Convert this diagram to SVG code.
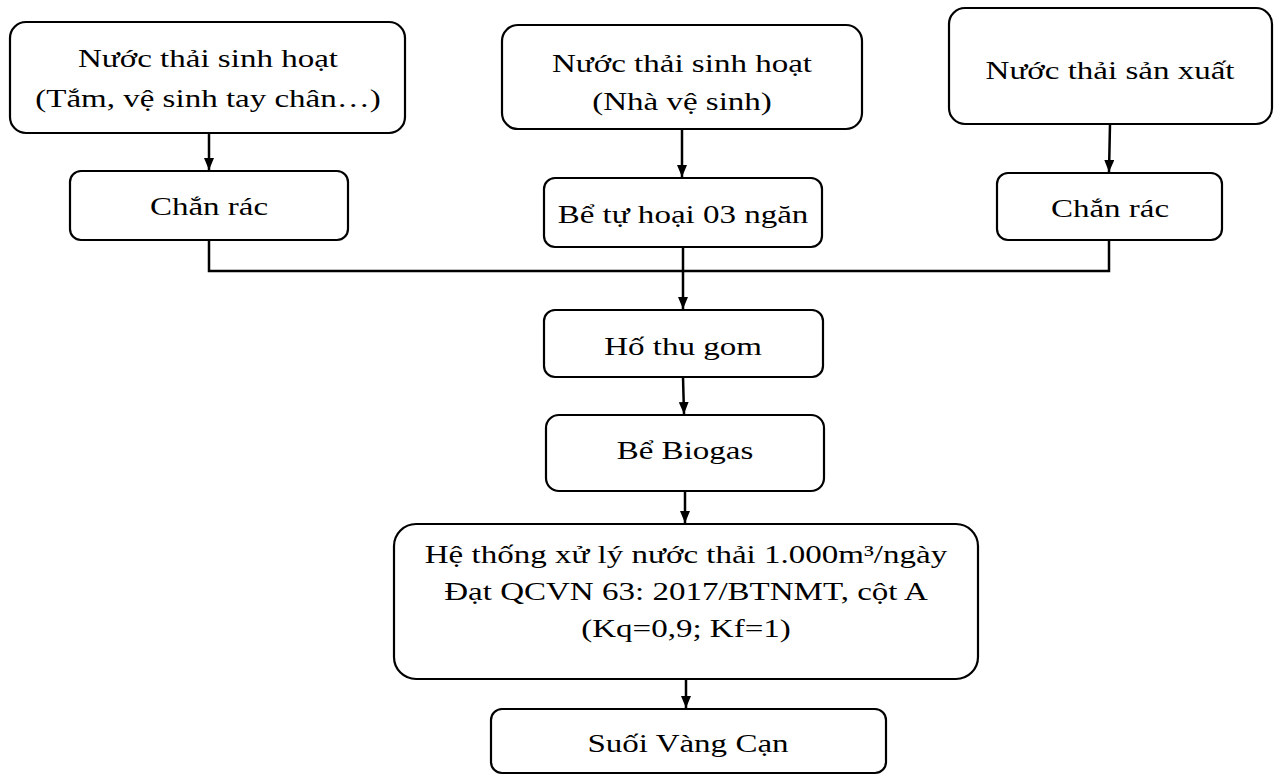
<svg xmlns="http://www.w3.org/2000/svg" width="1274" height="776" viewBox="0 0 1274 776">
<style>
.box{fill:#fff;stroke:#000;stroke-width:2.2}
.t{font-family:"Liberation Serif","Times New Roman",serif;font-size:25.6px;fill:#000;text-anchor:middle}
.c{fill:none;stroke:#000;stroke-width:2.5}
</style>
<defs>
<marker id="ah" markerWidth="12" markerHeight="10" refX="12" refY="5" orient="auto" markerUnits="userSpaceOnUse">
<path d="M0,0 L12,5 L0,10 Z" fill="#000"/>
</marker>
</defs>
<rect width="1274" height="776" fill="#fff"/>
<g id="connectors">
<line class="c" x1="209" y1="133" x2="209" y2="170" marker-end="url(#ah)"/>
<line class="c" x1="682" y1="129" x2="682" y2="177" marker-end="url(#ah)"/>
<line class="c" x1="1110" y1="124" x2="1109" y2="172" marker-end="url(#ah)"/>
<polyline class="c" points="209,240 209,271 1109,271 1109,240"/>
<line class="c" x1="683" y1="247" x2="683" y2="309" marker-end="url(#ah)"/>
<line class="c" x1="683" y1="377" x2="684" y2="414" marker-end="url(#ah)"/>
<line class="c" x1="685" y1="491" x2="685" y2="523" marker-end="url(#ah)"/>
<line class="c" x1="686" y1="679" x2="686" y2="708" marker-end="url(#ah)"/>
</g>
<g id="n1">
<rect class="box" x="10" y="22" width="395" height="111" rx="16"/>
<text class="t" transform="matrix(1.29 0 0 1 208 67)">Nước thải sinh hoạt</text>
<text class="t" transform="matrix(1.29 0 0 1 208 107)">(Tắm, vệ sinh tay chân…)</text>
</g>
<g id="n2">
<rect class="box" x="502" y="25" width="360" height="104" rx="16"/>
<text class="t" transform="matrix(1.29 0 0 1 682 72)">Nước thải sinh hoạt</text>
<text class="t" transform="matrix(1.29 0 0 1 682 110)">(Nhà vệ sinh)</text>
</g>
<g id="n3">
<rect class="box" x="949" y="8" width="323" height="116" rx="16"/>
<text class="t" transform="matrix(1.29 0 0 1 1110 79)">Nước thải sản xuất</text>
</g>
<g id="n4">
<rect class="box" x="70" y="171" width="278" height="69" rx="11"/>
<text class="t" transform="matrix(1.29 0 0 1 209 215)">Chắn rác</text>
</g>
<g id="n5">
<rect class="box" x="544" y="178" width="278" height="69" rx="11"/>
<text class="t" transform="matrix(1.29 0 0 1 683 223)">Bể tự hoại 03 ngăn</text>
</g>
<g id="n6">
<rect class="box" x="997" y="173" width="225" height="67" rx="11"/>
<text class="t" transform="matrix(1.29 0 0 1 1110 217)">Chắn rác</text>
</g>
<g id="n7">
<rect class="box" x="544" y="310" width="279" height="67" rx="11"/>
<text class="t" transform="matrix(1.29 0 0 1 683 355)">Hố thu gom</text>
</g>
<g id="n8">
<rect class="box" x="546" y="415" width="278" height="76" rx="13"/>
<text class="t" transform="matrix(1.29 0 0 1 685 459)">Bể Biogas</text>
</g>
<g id="n9">
<rect class="box" x="394" y="524" width="584" height="155" rx="22"/>
<text class="t" transform="matrix(1.29 0 0 1 686 563)">Hệ thống xử lý nước thải 1.000m³/ngày</text>
<text class="t" transform="matrix(1.29 0 0 1 686 600)">Đạt QCVN 63: 2017/BTNMT, cột A</text>
<text class="t" transform="matrix(1.29 0 0 1 686 637)">(Kq=0,9; Kf=1)</text>
</g>
<g id="n10">
<rect class="box" x="491" y="709" width="395" height="64" rx="11"/>
<text class="t" transform="matrix(1.29 0 0 1 688 752)">Suối Vàng Cạn</text>
</g>
</svg>
